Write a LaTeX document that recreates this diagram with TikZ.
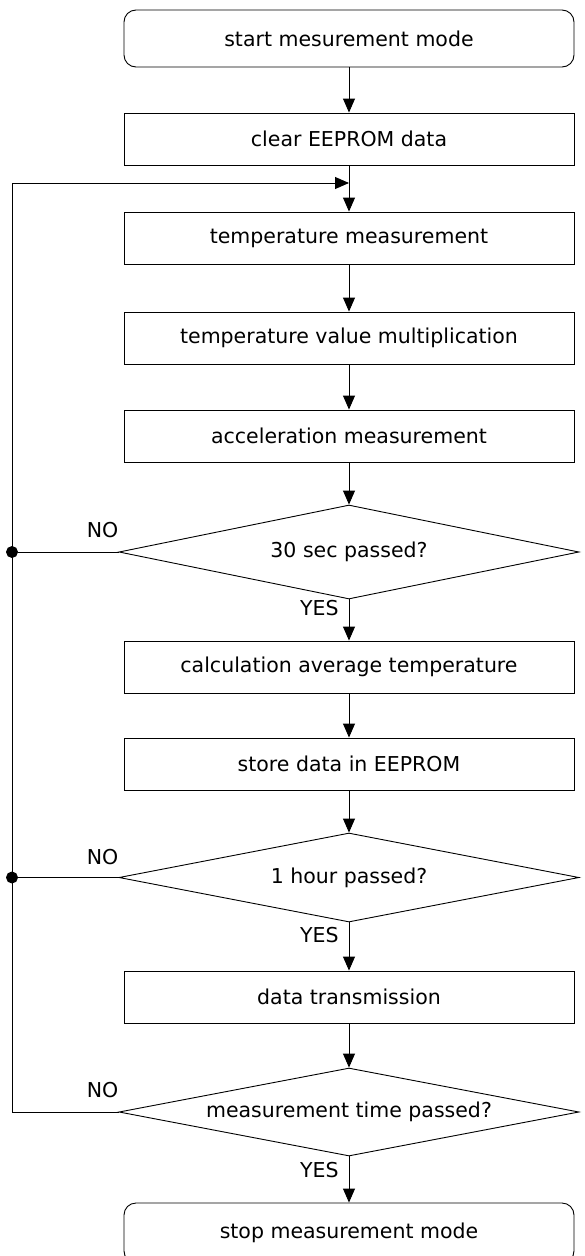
\documentclass[tikz,border=0pt]{standalone}
\usepackage{fontspec}
\setmainfont{DejaVu Sans}
\usetikzlibrary{shapes.geometric,arrows.meta}

\begin{document}
\begin{tikzpicture}[x=1pt,y=-1pt,line width=0.9pt,font=\fontsize{20.5}{24}\selectfont]
	% `stage' is used for the process boxes, `query' for the decisions.
	% `joint' is used for the dots on the return line.
	\tikzstyle{stage} = [draw,fill=white,minimum width=450pt,minimum height=52pt,inner sep=0pt]
	\tikzstyle{endpoint} = [stage,rounded corners=12pt,minimum height=57pt]
	\tikzstyle{query} = [draw,fill=white,shape=diamond,aspect=4.9,minimum width=460pt,inner sep=0pt]
	\tikzstyle{joint} = [draw,fill,shape=circle,minimum size=11pt,inner sep=0pt]
	\tikzstyle{answer} = [inner sep=0pt]
	\tikzstyle{flow} = [-{Triangle[length=14pt,width=12pt]}]
	\useasboundingbox (0,0) rectangle (584,1256);
	%
	% Boxes, top to bottom.
	\node[endpoint] (start) at (349,38.5) {start mesurement mode};
	\node[stage] (clear) at (349,139) {clear EEPROM data};
	\node[stage] (temp) at (349,238) {temperature measurement};
	\node[stage] (mult) at (349,338) {temperature value multiplication};
	\node[stage] (accel) at (349,436) {acceleration measurement};
	\node[query,minimum height=94pt] (sec) at (349,552) {30 sec passed?};
	\node[stage] (avg) at (349,667) {calculation average temperature};
	\node[stage] (store) at (349,764) {store data in EEPROM};
	\node[query,minimum height=89pt] (hour) at (349,877.5) {1 hour passed?};
	\node[stage] (send) at (349,997) {data transmission};
	\node[query,minimum height=88pt] (done) at (349,1112) {measurement time passed?};
	\node[endpoint,minimum height=60pt] (stop) at (349,1233) {stop measurement mode};
	%
	% Answers next to the decisions.
	\node[answer] (no1) at ([xshift=-16pt,yshift=22pt]sec.west) {NO};
	\node[answer] (no2) at ([xshift=-16pt,yshift=20pt]hour.west) {NO};
	\node[answer] (no3) at ([xshift=-16pt,yshift=22pt]done.west) {NO};
	\node[answer,anchor=east] (yes1) at ([xshift=-10pt,yshift=-9pt]sec.south) {YES};
	\node[answer,anchor=east] (yes2) at ([xshift=-10pt,yshift=-13pt]hour.south) {YES};
	\node[answer,anchor=east] (yes3) at ([xshift=-10pt,yshift=-14pt]done.south) {YES};
	%
	% Return line on the left.
	\coordinate (back) at (12,183);
	\coordinate (join) at (349,183);
	\node[joint] (dot1) at (sec.west -| back) {};
	\node[joint] (dot2) at (hour.west -| back) {};
	%
	% Draw lines.
	\draw[flow] (start) -- (clear);
	\draw (clear) -- (join);
	\draw[flow] (join) -- (temp);
	\draw[flow] (temp) -- (mult);
	\draw[flow] (mult) -- (accel);
	\draw[flow] (accel) -- (sec);
	\draw[flow] (sec) -- (avg);
	\draw[flow] (avg) -- (store);
	\draw[flow] (store) -- (hour);
	\draw[flow] (hour) -- (send);
	\draw[flow] (send) -- (done);
	\draw[flow] (done) -- (stop);
	\draw (sec.west) -- (dot1);
	\draw (hour.west) -- (dot2);
	\draw (done.west) -- (done.west -| back) -- (back);
	\draw[flow] (back) -- (join);
\end{tikzpicture}
\end{document}
